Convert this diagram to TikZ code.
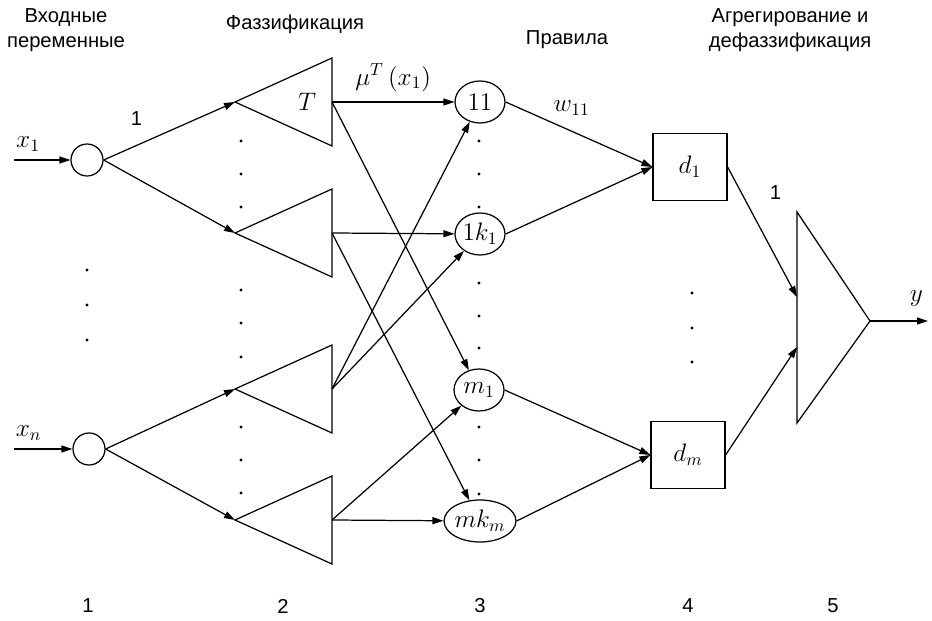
\documentclass[tikz,border=0pt]{standalone}
\usepackage{fontspec}
\setmainfont{Liberation Sans}
\usepackage{tikz}
\usetikzlibrary{positioning,arrows.meta,shapes.geometric}

% fuzzy set triangle: name, y of its axis
\newcommand{\fuzzset}[2]{%
  \coordinate (#1-in) at (235,#2);
  \coordinate (#1-out) at (332,#2);
  \draw (#1-in) -- (332,#2-44) -- (332,#2+44) -- cycle;
}

\begin{document}
\begin{tikzpicture}[
    x=0.02cm, y=-0.02cm,
    line width=0.7pt,
    node font=\fontsize{11.5}{14}\selectfont,
    arr/.style={draw, -{Triangle[length=2.2mm, width=1.4mm]}},
    innode/.style={draw, circle, minimum size=0.64cm, inner sep=0pt},
    rulenode/.style={draw, ellipse, minimum width=1cm, minimum height=0.84cm, inner sep=0pt},
    defbox/.style={draw, rectangle, minimum width=1.48cm, minimum height=1.34cm},
    head/.style={align=center},
    mlabel/.style={node font=\fontsize{14}{16}\selectfont}
]
\useasboundingbox (0,0) rectangle (932,621);

\node[head] (h1) at (66,30) {Входные\\переменные};
\node[head] (h2) at (295,24) {Фаззификация};
\node[head] (h3) at (567,40) {Правила};
\node[head] (h4) at (790,30) {Агрегирование и\\дефаззификация};

\node (n1) at (88,606) {1};
\node (n2) at (283,606) {2};
\node (n3) at (480,606) {3};
\node (n4) at (688,606) {4};
\node (n5) at (833,606) {5};

% layer 1
\node[innode] (in1) at (87,160) {};
\node[innode] (inn) at (89,449) {};
\coordinate (x1) at (14,160);
\coordinate (xn) at (14,449);
\draw[arr] (x1) -- (in1) node[pos=0.25, above, mlabel] {$x_1$};
\draw[arr] (xn) -- (inn) node[pos=0.25, above, mlabel] {$x_n$};

% layer 2
\fuzzset{f1}{102}
\fuzzset{f2}{233}
\fuzzset{f3}{389}
\fuzzset{f4}{520}
\node[mlabel] (tlab) at (307,102) {$T$};

\draw[arr] (in1.east) -- (f1-in) node[pos=0.25, above=7pt] {1};
\draw[arr] (in1.east) -- (f2-in);
\draw[arr] (inn.east) -- (f3-in);
\draw[arr] (inn.east) -- (f4-in);

% layer 3
\node[rulenode, mlabel] (r11) at (480,102) {$11$};
\node[rulenode, mlabel] (r1k) at (480,234) {$1k_1$};
\node[rulenode, mlabel] (rm1) at (479,390) {$m_1$};
\node[rulenode, mlabel] (rmk) at (480,521) {$mk_m$};

\draw[arr] (f1-out) -- (r11) node[midway, above=1pt, mlabel] {$\mu^{T}\,(x_1)$};
\draw[arr] (f1-out) -- (rm1);
\draw[arr] (f2-out) -- (r1k);
\draw[arr] (f2-out) -- (rmk);
\draw[arr] (f3-out) -- (r11);
\draw[arr] (f3-out) -- (r1k);
\draw[arr] (f4-out) -- (rm1);
\draw[arr] (f4-out) -- (rmk);

% layer 4
\node[defbox, mlabel] (d1) at (690,167) {$d_1$};
\node[defbox, mlabel] (dm) at (688,455) {$d_m$};

\draw[arr] (r11.east) -- (d1.west) node[pos=0.45, above=4pt, mlabel] {$w_{11}$};
\draw[arr] (r1k.east) -- (d1.west);
\draw[arr] (rm1.east) -- (dm.west);
\draw[arr] (rmk.east) -- (dm.west);

% layer 5
\coordinate (agg-a) at (870,321);
\coordinate (agg-in1) at (797,297);
\coordinate (agg-in2) at (797,347);
\coordinate (y) at (928,321);
\draw (797,212) -- (agg-a) -- (797,423) -- cycle;
\draw[arr] (d1.east) -- (agg-in1) node[pos=0.2, right=12pt] {1};
\draw[arr] (dm.east) -- (agg-in2);
\draw[arr] (agg-a) -- (y) node[pos=0.8, above=3pt, mlabel] {$y$};

% dots
\foreach \yy in {270,305,340} \fill (87,\yy) circle[radius=0.9pt];
\foreach \yy in {141,174,207,290,323,357,427,460,493} \fill (241,\yy) circle[radius=0.9pt];
\foreach \yy in {141,174,207,283,316,348,427,460,494} \fill (479,\yy) circle[radius=0.9pt];
\foreach \yy in {293,328,362} \fill (692,\yy) circle[radius=0.9pt];

\end{tikzpicture}
\end{document}
